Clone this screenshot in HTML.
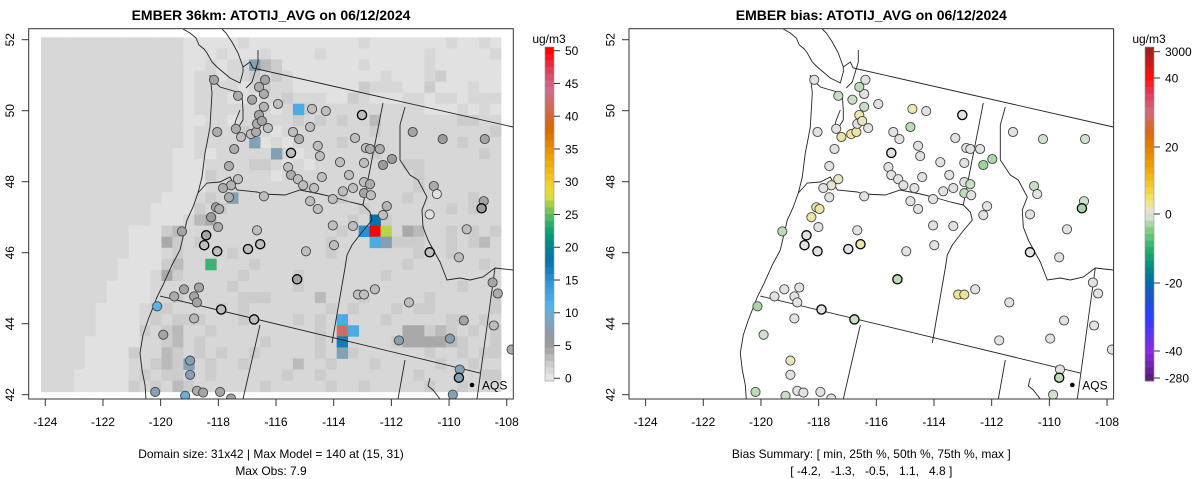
<!DOCTYPE html>
<html><head><meta charset="utf-8"><style>
html,body{margin:0;padding:0;background:#fff}
svg{display:block;font-family:"Liberation Sans",Arial,sans-serif}
text{white-space:pre}
</style></head><body>
<svg id="root" width="1200" height="479" viewBox="0 0 1200 479" xmlns="http://www.w3.org/2000/svg"></svg>
<script>
// ---------------- DATA ----------------
const xTicks = [-124,-122,-120,-118,-116,-114,-112,-110,-108];
const yTicks = [42,44,46,48,50,52];
const concTicks = [0,5,10,15,20,25,30,35,40,45,50];
const biasTickLabels = ["3000","40","20","0","-20","-40","-280"];
const biasTickValues = [3000,40,20,0,-20,-40,-280];
const summaryValues = ["-4.2","-1.3","-0.5","1.1","4.8"];
// model grid rows (42 cols x 32 rows), symbols coded by gridCode
const gridRows = [
".............-----.----------.-------.--.-",
".............---.---.----.---------.-----.",
".............--.-..+#+-------.-----.------",
".............-..-..+.+.--------.---.+-----",
".............-....-.+..------+...--+---.--",
".............-...---..+...--+.---..-..-...",
".............-.......-.++..........---.-.-",
".............--..-.....+.+.+..#.......++..",
".............-....+..-........+..........+",
".............-......-.-....+..........+...",
"............--.-.......-......+.........+.",
"............---....++.-.-........++.......",
"............---+.....-............+.......",
"............---.........+.........+.......",
"...........---.+...........+.....+.....+..",
"..........----+.+............+.......+.+..",
"..........---.#%............+..+..........",
"........---+#..............+.....%#..+.+.+",
"........---%+.+...........+.....+++..+.+#.",
"........---.+....+........+.......+..+....",
".......----+#..+...+.............+......+.",
".......---.%+.....+....+.......+..........",
"......----.......+.....+..............+...",
"......----..+.....+++....#...+.....+.....+",
".....----.++....+.+.......+.+...+.++.....+",
".....----.+.+++...+....+.+.....+.....++.+.",
".....----+.+#..+.........+.+.....%%+#+.+.+",
"....-----..+#.+.....+....+.+....+%%%%#+..+",
"....----+..#+.+.+..+.....+..+......+..+.++",
"....----..+#+..+..+....#..+...+.....+..+..",
"...-----.+.++..+......+..+........+.....++",
"...-----+.+.#+......+.....+..+.....+..+..."
];
const gridCode = {".":1.3,"-":0.4,"+":2.2,"#":3.2,"%":4.2};
const specialCol = [23,19,19,21,17,30,29,30,31,30,31,15,27,27,28,27,27,13];
const specialRow = [6,2,9,10,14,16,17,17,17,18,18,20,25,26,26,27,28,29];
const specialVal = [12,8,8,8,8,18,15,50,27,12,8,24,12,42,12,17,8,8];
// stations
const stLon = [-118.15,-117.32,-116.83,-116.42,-116.38,-116.59,-115.93,-116.42,-118.04,-117.39,-117.21,-116.87,-116.69,-116.28,-116.66,-117.45,-114.75,-114.27,-113.02,-114.82,-115.41,-115.20,-115.48,-114.55,-114.48,-113.78,-113.26,-112.88,-112.74,-112.40,-111.98,-112.29,-112.95,-115.58,-115.48,-115.24,-115.06,-114.68,-114.41,-113.47,-113.33,-113.68,-112.95,-112.95,-112.71,-112.74,-111.26,-110.22,-108.76,-110.53,-110.42,-108.80,-108.87,-110.67,-112.16,-112.29,-117.63,-117.32,-117.56,-117.84,-117.63,-118.08,-117.97,-118.25,-118.01,-118.42,-118.49,-118.04,-116.42,-114.82,-114.55,-114.03,-116.66,-116.55,-116.97,-114.96,-113.99,-114.03,-113.33,-119.26,-109.39,-109.66,-110.67,-115.27,-113.16,-112.95,-112.57,-108.49,-108.31,-111.39,-119.19,-118.67,-119.53,-118.84,-118.74,-117.90,-120.12,-118.84,-116.76,-119.91,-109.49,-108.45,-111.74,-109.97,-118.98,-118.98,-109.63,-109.66,-107.83,-120.19,-118.74,-118.53,-117.94,-119.15,-109.87,-117.56,-116.59,-116.49];
const stLat = [50.87,50.42,50.31,50.47,50.87,50.67,50.19,50.11,49.40,49.49,49.26,49.34,49.40,49.51,49.63,48.92,50.05,49.99,49.88,49.54,49.40,49.20,48.81,49.01,48.72,48.55,49.23,48.95,48.92,48.92,48.64,48.47,48.53,48.41,48.19,48.07,47.90,47.82,48.13,48.19,47.82,47.73,47.99,47.68,47.62,47.93,49.40,49.20,49.20,47.88,47.65,47.45,47.25,47.08,47.31,47.06,48.44,48.07,47.90,47.82,47.56,47.28,47.23,47.00,46.72,46.49,46.21,46.04,47.59,47.45,47.23,47.51,46.63,46.24,46.10,46.04,46.21,46.77,46.75,46.60,46.66,45.87,46.01,45.25,44.82,44.82,44.97,45.16,44.85,44.60,44.97,45.02,44.77,44.77,44.60,44.40,44.49,44.15,44.12,43.69,44.09,43.95,43.53,43.58,42.96,42.56,42.71,42.48,43.27,42.08,42.11,42.06,42.08,41.97,42.00,41.89,49.88,49.71];
const stObs = [4.5,4,4.5,4,4.5,4,3,3.5,4,4,3,3,4,3,4,4,3,3,3,3,3,4,3,3,3,3,3,3,4,4,5,5.5,3,3,4,3,3,3,3,3,3,3,3,4.5,3,4,4.5,5,4.5,4,0.5,4.5,5,0.5,3.5,3,4,3,3.5,4,4,4.5,4,5,4,4.5,3,3,3,3,3,3,3,3,3,3,3,3,3,4.5,3,3,3,4.5,3,3,3,4.5,4,3,4.5,4.5,4,4.5,4.5,3,11,3.5,3,4.5,4.5,3,8,8,8,8,8,8,4,8,4,4.5,4.5,10,8,4.5,4.5,4.5];
const stBias = [0,-1.5,-1.5,0,0,-2,0,-1.5,0,0,2.5,2.5,2.5,0,-0.5,0,2,0,0,-2,0,0,0,0,0,0,0,0,0,0,-3,-3.5,0,0,0,0,0,0,0,0,0,0,0,-2,0,-1.5,0,-1,-1,-1.5,0,-1,-3,0,0,0,0,1.5,1,0,0,2.5,2.5,2.5,0,0,0,0,0,0,0,0,0,2.5,0,0,0,0,0,-2,0,0,0,-2,3,3,0,0,0,0,0,0,0,0,0,0,-3,0,-1.5,-1,0,0,0,0,1.5,0,0,-2,0,-2,0,0,0,-1.5,-1,0,2,1.5];
const stThick = [18,22,65,66,67,73,74,83,95,98,82,107,52];
// ---------------- SCALES ----------------
const NS="http://www.w3.org/2000/svg";
const root=document.getElementById('root');
function el(tag,attrs,parent){const e=document.createElementNS(NS,tag);for(const k in attrs)e.setAttribute(k,attrs[k]);(parent||root).appendChild(e);return e;}
const X0=45.3, XS=28.84, Y0=39.7, YS=35.5;
function xs(lon){return X0+(lon+124)*XS;}
function ys(lat){return Y0+(52-lat)*YS;}
function hex(c){return [parseInt(c.substr(1,2),16),parseInt(c.substr(3,2),16),parseInt(c.substr(5,2),16)];}
function interp(stops,v){if(v<=stops[0][0])return stops[0][1];for(let i=1;i<stops.length;i++){if(v<=stops[i][0]){const a=stops[i-1],b=stops[i];const t=(v-a[0])/(b[0]-a[0]);const ca=hex(a[1]),cb=hex(b[1]);return 'rgb('+ca.map((x,j)=>Math.round(x+(cb[j]-x)*t)).join(',')+')';}}return stops[stops.length-1][1];}
const concStops=[[0,"#e6e6e6"],[2,"#cfcfcf"],[4,"#acacac"],[5,"#9c9c9c"],[7,"#8e9aa3"],[9,"#7aa8c4"],[11,"#56b4e9"],[14,"#3a9ad6"],[16,"#1f84c6"],[18,"#0a70a8"],[20,"#04838f"],[22,"#009e73"],[24,"#3cb371"],[26,"#8dc850"],[28,"#e4e03a"],[30,"#f0cc28"],[34,"#e8a000"],[38,"#d86800"],[41,"#d06a50"],[44,"#cc6f90"],[47,"#e04060"],[50,"#ff0000"]];
const biasStops=[[-280,"#5a1e78"],[-40,"#8a2be2"],[-30,"#2f3cff"],[-20,"#0868a8"],[-15,"#009080"],[-10,"#2fae6a"],[-5,"#80cc80"],[-2,"#bcdcb8"],[-0.3,"#e2e2e2"],[0.3,"#e2e2e2"],[2,"#ece6b0"],[5,"#f0e060"],[10,"#f0c020"],[15,"#e8a000"],[20,"#e08000"],[25,"#d86820"],[30,"#cc6f80"],[35,"#e04060"],[40,"#ff1010"],[3000,"#a02020"]];
const cbTop=47, cbBot=381;
function concY(v){return 378.3-(v/50)*(378.3-50.7);}
const biasYs=[51.7,78,147,214,283,351,378];
function biasFromY(y){for(let i=1;i<biasYs.length;i++){if(y<=biasYs[i]){const t=(y-biasYs[i-1])/(biasYs[i]-biasYs[i-1]);return biasTickValues[i-1]+t*(biasTickValues[i]-biasTickValues[i-1]);}}return -280;}
// map geometry (pixels, left panel)
const geoLines=[
[[183,29],[190,33],[196,38],[199,45],[204,49],[207,53],[212,62],[217,67],[230,78],[240,83],[243,72],[243,67],[238,53],[232,42],[226,33],[222,29]],
[[210,75],[212,93],[211,110],[210,127],[207,143],[205,153],[202,177],[198,193],[193,207],[187,220],[180,250],[172,265],[163,285],[157,297],[152,310],[148,320],[143,335],[140,353],[142,370],[145,385],[146,399]],
[[210,77],[220,87],[237,92],[242,96],[243,110],[243,120],[238,128],[233,130],[236,120],[240,110]],
[[246,88],[252,82],[255,72],[258,62],[258,50]],
[[243,67],[250,62],[253,68]],
[[198,193],[207,183],[220,182],[230,177],[237,190],[257,192],[263,194],[285,195],[300,190],[320,194],[333,197],[350,202],[363,205]],
[[363,205],[370,212],[372,220],[362,232],[352,245],[347,255],[345,268],[332,343]],
[[383,103],[363,205]],
[[253,68],[513,127]],
[[405,107],[400,125],[400,160],[410,175],[418,180],[427,197],[422,210],[423,227],[428,240],[435,253],[440,262],[447,280],[460,278],[470,280],[483,277],[495,268],[513,270]],
[[160,296],[480,373]],
[[260,325],[243,399]],
[[405,360],[398,399]],
[[495,268],[477,399]],
[[430,378],[428,386],[433,390],[440,399]]
];
function drawPanel(off,mode){
  const g=el('g',{});
  const cid='clip'+mode;
  const defs=el('defs',{},g);const cp=el('clipPath',{id:cid},defs);el('rect',{x:28.7+off,y:28.7,width:484.6,height:370.3},cp);
  const inner=el('g',{'clip-path':'url(#'+cid+')'},g);
  
  
  if(mode==='conc'){
    const cw=(501-41)/42, ch=(391.7-37.3)/32;
    for(let r=0;r<gridRows.length;r++){const row=gridRows[r].padEnd(42,'.');for(let c=0;c<42;c++){
      const v=gridCode[row[c]]!==undefined?gridCode[row[c]]:1.3;
      const rc=el('rect',{x:(41+c*cw+off).toFixed(2),y:(37.3+r*ch).toFixed(2),width:(cw+0.4).toFixed(2),height:(ch+0.4).toFixed(2),fill:interp(concStops,v)},inner);
      
      
    }}
    for(let i=0;i<specialCol.length;i++){
      const rc=el('rect',{x:(41+specialCol[i]*cw+off).toFixed(2),y:(37.3+specialRow[i]*ch).toFixed(2),width:(cw+0.4).toFixed(2),height:(ch+0.4).toFixed(2),fill:interp(concStops,specialVal[i])},inner);
      
      
    }
  }
  for(const ln of geoLines){const p=el('polyline',{points:ln.map(q=>(q[0]+off)+','+q[1]).join(' '),fill:'none',stroke:'#222','stroke-width':0.9},inner);
    
    }
  for(let i=0;i<stLon.length;i++){
    const fill=mode==='conc'?interp(concStops,stObs[i]):interp(biasStops,stBias[i]);
    const thick=stThick.indexOf(i)>=0;
    const c=el('circle',{cx:(xs(stLon[i])+off).toFixed(1),cy:ys(stLat[i]).toFixed(1),r:4.6,fill:fill,stroke:thick?'#000':'#444','stroke-width':thick?1.3:0.9},inner);
    
    
  }
  const dot=el('circle',{cx:472+off,cy:385,r:2.3,fill:'#000'},g);
  
  
  const aq=el('text',{x:482+off,y:389.5,'font-size':12,fill:'#000'},g);aq.textContent='AQS';
  
  
  const box=el('rect',{x:28.7+off,y:28.7,width:484.6,height:370.3,fill:'none',stroke:'#333','stroke-width':1},g);
  
  
  for(const t of xTicks){const x=xs(t)+off;
    const tk=el('line',{x1:x,y1:399,x2:x,y2:406,stroke:'#333'},g);
    
    
    const tx=el('text',{x:x,y:426,'font-size':12,'text-anchor':'middle',fill:'#000'},g);tx.textContent=t;
    
    }
  for(const t of yTicks){const y=ys(t);
    const tk=el('line',{x1:21.7+off,y1:y,x2:28.7+off,y2:y,stroke:'#333'},g);
    
    
    const tx=el('text',{x:0,y:0,'font-size':12,'text-anchor':'middle',fill:'#000',transform:'translate('+(14+off)+','+y+') rotate(-90)'},g);tx.textContent=t;
    
    }
  const ti=el('text',{x:271+off,y:20,'font-size':14,'font-weight':'bold','text-anchor':'middle',fill:'#000'},g);
  ti.textContent=mode==='conc'?'EMBER 36km: ATOTIJ_AVG on 06/12/2024':'EMBER bias: ATOTIJ_AVG on 06/12/2024';
  
  
  const s1=el('text',{x:271+off,y:458,'font-size':12,'text-anchor':'middle',fill:'#000'},g);
  const s2=el('text',{x:271+off,y:475,'font-size':12,'text-anchor':'middle',fill:'#000'},g);
  if(mode==='conc'){s1.textContent='Domain size: 31x42 | Max Model = 140 at (15, 31)';s2.textContent='Max Obs: 7.9';}
  else{s1.textContent='Bias Summary: [ min, 25th %, 50th %, 75th %, max ]';s2.textContent='[ '+summaryValues.join(',   ')+' ]';}
  
  
  
  
  const cx=mode==='conc'?545:1145;
  const cb=el('g',{},g);
  
  
  const n=50;
  for(let i=0;i<n;i++){const y0=cbTop+(cbBot-cbTop)*i/n, y1=cbTop+(cbBot-cbTop)*(i+1)/n, ym=(y0+y1)/2;
    const col=mode==='conc'?interp(concStops,(378.3-ym)/(378.3-50.7)*50):interp(biasStops,biasFromY(ym));
    const r=el('rect',{x:cx,y:y0.toFixed(2),width:9,height:(y1-y0+0.5).toFixed(2),fill:col},cb);
    
    }
  el('rect',{x:cx,y:cbTop,width:9,height:cbBot-cbTop,fill:'none',stroke:'#999','stroke-width':0.6},cb);
  const un=el('text',{x:cx+4,y:43,'font-size':12,'text-anchor':'middle',fill:'#000'},cb);un.textContent='ug/m3';
  
  
  const tv=mode==='conc'?concTicks:biasTickValues;
  for(let i=0;i<tv.length;i++){const y=mode==='conc'?concY(tv[i]):biasYs[i];
    const tk=el('line',{x1:cx+9,y1:y,x2:cx+15,y2:y,stroke:'#333'},cb);
    
    
    const tx=el('text',{x:cx+20,y:y+4.3,'font-size':12,fill:'#000'},cb);tx.textContent=mode==='conc'?tv[i]:biasTickLabels[i];
    
    }
}
drawPanel(0,'conc');
drawPanel(600.3,'bias');
</script>
</body></html>
